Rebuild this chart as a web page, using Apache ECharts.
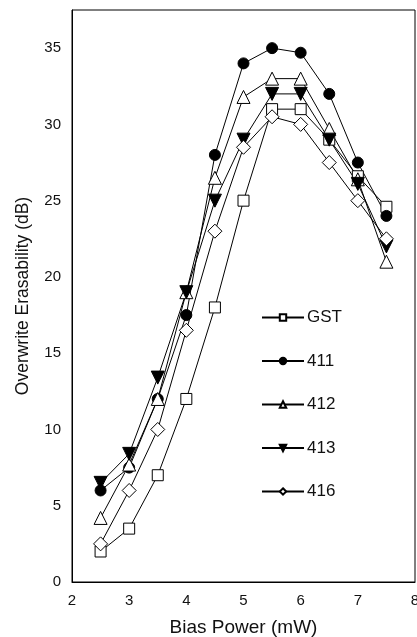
<!DOCTYPE html>
<html>
<head>
<meta charset="utf-8">
<script src="https://cdn.jsdelivr.net/npm/echarts@6/dist/echarts.min.js"></script>
<style>html,body{margin:0;padding:0;background:#fff;}#c{width:417px;height:637px;}</style>
</head>
<body>
<div id="c"></div>
<script>
var biasPower = [2.5, 3, 3.5, 4, 4.5, 5, 5.5, 6, 6.5, 7, 7.5];
var gst   = [2.0, 3.5, 7.0, 12.0, 18.0, 25.0, 31.0, 31.0, 29.0, 26.6, 24.6];
var s411  = [6.0, 7.5, 12.0, 17.5, 28.0, 34.0, 35.0, 34.7, 32.0, 27.5, 24.0];
var s412  = [4.2, 7.7, 12.0, 19.0, 26.5, 31.8, 33.0, 33.0, 29.7, 26.4, 21.0];
var s413  = [6.5, 8.4, 13.4, 19.0, 25.0, 29.0, 32.0, 32.0, 29.0, 26.1, 22.0];
var s416  = [2.5, 6.0, 10.0, 16.5, 23.0, 28.5, 30.5, 30.0, 27.5, 25.0, 22.5];
var seriesNames = ['GST', '411', '412', '413', '416'];
var xTicks = [2, 3, 4, 5, 6, 7, 8];
var yTicks = [0, 5, 10, 15, 20, 25, 30, 35];

function pairs(v){ return biasPower.map(function(x,i){ return [x, v[i]]; }); }
var FONT = '"Liberation Sans", Arial, sans-serif';
function mk(name, data, symbol, filled, size, rot){
  return {
    name: name, type: 'line', data: pairs(data),
    symbol: symbol, symbolSize: size, symbolRotate: rot || 0,
    lineStyle: {color: '#000', width: 1},
    itemStyle: {color: filled ? '#000' : '#fff', borderColor: '#000', borderWidth: 1},
    emphasis: {disabled: true}, animation: false, z: 3
  };
}
var chart = echarts.init(document.getElementById('c'));
chart.setOption({
  backgroundColor: '#fff',
  animation: false,
  grid: {left: 72, right: 2, top: 10, bottom: 55, show: true, borderColor: '#000', borderWidth: 1,
         containLabel: false, outerBoundsMode: 'none'},
  legend: {
    orient: 'vertical', left: 256, top: 304, itemGap: 26.5, itemWidth: 42, itemHeight: 8,
    data: seriesNames,
    textStyle: {fontFamily: FONT, fontSize: 17, color: '#111', padding: [0,0,0,-2]}
  },
  xAxis: {
    type: 'value', min: xTicks[0], max: xTicks[xTicks.length-1], interval: 1,
    name: 'Bias Power (mW)', nameLocation: 'middle', nameGap: 36,
    nameTextStyle: {fontFamily: FONT, fontSize: 19, color: '#111'},
    axisLine: {lineStyle: {color: '#000', width: 1}},
    axisTick: {show: false}, splitLine: {show: false},
    axisLabel: {fontFamily: FONT, fontSize: 15, color: '#111', margin: 11}
  },
  yAxis: {
    type: 'value', min: yTicks[0], max: 37.5, interval: 5,
    name: 'Overwrite Erasability (dB)', nameLocation: 'middle', nameGap: 40,
    nameTextStyle: {fontFamily: FONT, fontSize: 17.5, color: '#111'},
    axisLine: {lineStyle: {color: '#000', width: 1}},
    axisTick: {show: false}, splitLine: {show: false},
    axisLabel: {fontFamily: FONT, fontSize: 15, color: '#111', margin: 11,
      formatter: function(v){ return yTicks.indexOf(v) >= 0 ? String(v) : ''; }}
  },
  series: [
    mk('GST', gst, 'rect', false, 11),
    mk('411', s411, 'circle', true, 11),
    mk('412', s412, 'triangle', false, 13),
    mk('413', s413, 'triangle', true, 13, 180),
    mk('416', s416, 'diamond', false, 14)
  ]
});
</script>
</body>
</html>
